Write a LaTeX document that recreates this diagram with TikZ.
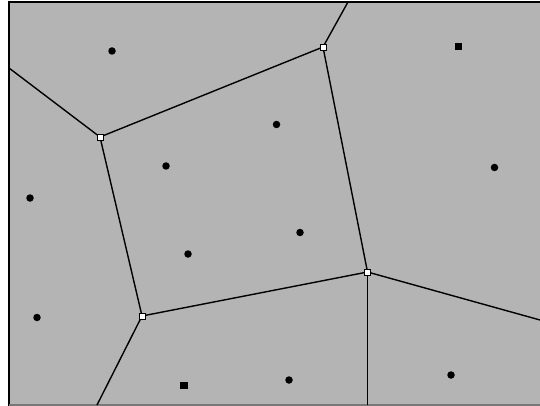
\documentclass[tikz,border=0pt]{standalone}
\definecolor{bg}{RGB}{180,180,180}
\definecolor{bottomline}{RGB}{120,120,120}
\begin{document}
\begin{tikzpicture}[x=1pt,y=-1pt,
  edge/.style={line width=1.4pt,black},
  vtx/.style={draw=black,fill=white,line width=0.9pt,minimum size=6pt,inner sep=0pt,rectangle},
  site/.style={fill=black,circle,minimum size=7.5pt,inner sep=0pt},
  sitesq/.style={fill=black,rectangle,minimum size=7.5pt,inner sep=0pt}]
\useasboundingbox (0,0) rectangle (540,406);
\fill[white] (0,0) rectangle (540,406);
\fill[bg] (8,1) rectangle (540,405);
\draw[line width=2pt,black] (9,406) -- (9,2) -- (540,2);
\draw[line width=1.5pt,bottomline] (9,405) -- (540,405);
% boundary points
\coordinate (L1) at (9,68);
\coordinate (T1) at (348,2);
\coordinate (R1) at (540,320);
\coordinate (B1) at (367.5,405);
\coordinate (B2) at (97,405);
% Voronoi vertices
\coordinate (A) at (100,137);
\coordinate (B) at (323,47);
\coordinate (C) at (367.5,272);
\coordinate (D) at (142,316);
\draw[edge] (L1) -- (A);
\draw[edge] (A) -- (B);
\draw[edge] (T1) -- (B);
\draw[edge] (B) -- (C);
\draw[edge] (C) -- (R1);
\draw[edge] (C) -- (B1);
\draw[edge] (C) -- (D);
\draw[edge] (D) -- (B2);
\draw[edge] (D) -- (A);
\node[vtx] (vA) at (A) {};
\node[vtx] (vB) at (B) {};
\node[vtx] (vC) at (C) {};
\node[vtx] (vD) at (D) {};
% sites
\node[site] (s1) at (112,51) {};
\node[sitesq] (s2) at (458.5,46.5) {};
\node[site] (s3) at (276.5,124.5) {};
\node[site] (s4) at (166,166) {};
\node[site] (s5) at (300,232.5) {};
\node[site] (s6) at (188,254) {};
\node[site] (s7) at (494.5,167.5) {};
\node[site] (s8) at (30,198) {};
\node[site] (s9) at (37,317.5) {};
\node[sitesq] (s10) at (184,385.5) {};
\node[site] (s11) at (289,380) {};
\node[site] (s12) at (451,375) {};
\end{tikzpicture}
\end{document}
